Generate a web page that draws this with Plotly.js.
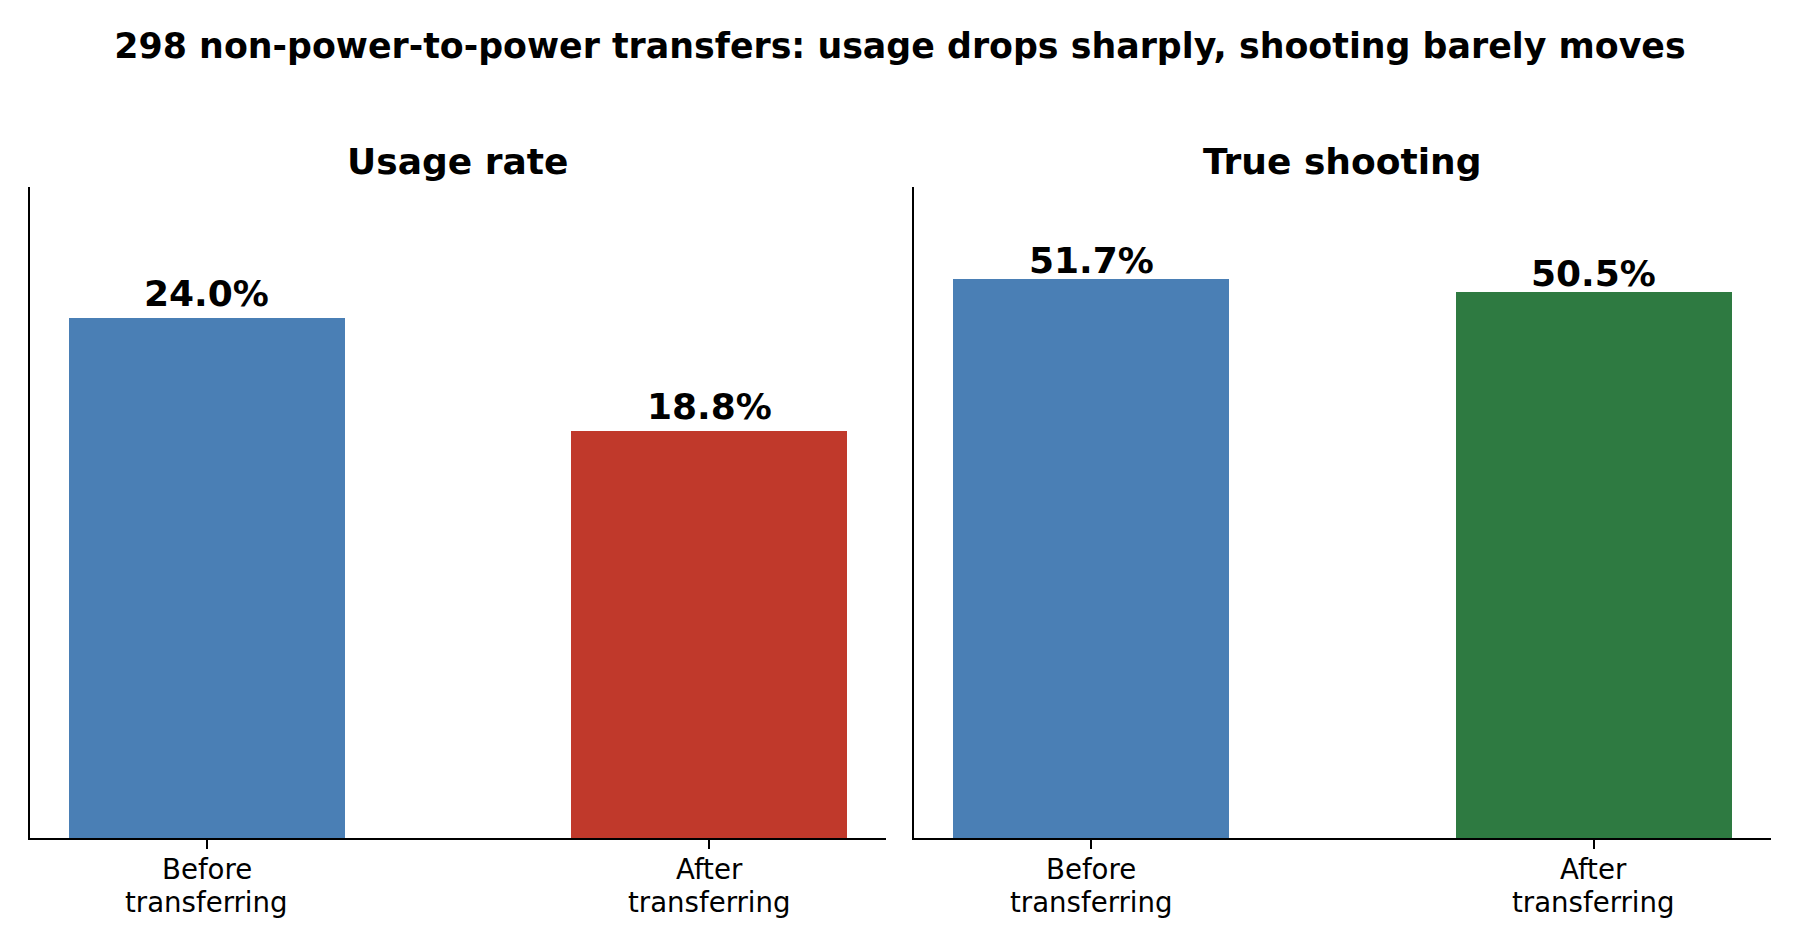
<!DOCTYPE html>
<html>
<head>
<meta charset="utf-8">
<script src="https://cdn.plot.ly/plotly-3.0.1.min.js"></script>
<style>
  html, body { margin: 0; padding: 0; background: #fff; }
  #chart { width: 1800px; height: 948px; }
</style>
</head>
<body>
<div id="chart"></div>
<script>
// values
const categories = ['Before<br>transferring', 'After<br>transferring'];
const usageRate = [24.0, 18.8];
const trueShooting = [51.7, 50.5];
const panelTitles = ['Usage rate', 'True shooting'];
const usageColors = ['#4a7fb5', '#c0392b'];
const shootingColors = ['#4a7fb5', '#2e7a41'];

const boldFont = {family: 'DejaVu Sans', size: 36, color: '#000', weight: 'bold'};
const tickFont = {family: 'DejaVu Sans', size: 27.6, color: '#000'};

const data = [
    {
        x: categories, y: usageRate, type: 'bar', width: 0.55,
        marker: {color: usageColors}, xaxis: 'x', yaxis: 'y',
        hoverinfo: 'skip', showlegend: false
    },
    {
        x: categories, y: trueShooting, type: 'bar', width: 0.55,
        marker: {color: shootingColors}, xaxis: 'x2', yaxis: 'y2',
        hoverinfo: 'skip', showlegend: false
    }
];

function xAxis(domain, anchor) {
    return {
        domain: domain, anchor: anchor, type: 'category',
        range: [-0.3525, 1.3525],
        showline: true, linecolor: '#000', linewidth: 2,
        ticks: 'outside', ticklen: 9, tickwidth: 2, tickcolor: '#000',
        showticklabels: false, showgrid: false, zeroline: false, fixedrange: true
    };
}
function yAxis(domain, anchor, top) {
    return {
        domain: domain, anchor: anchor, range: [0, top],
        showline: true, linecolor: '#000', linewidth: 2,
        ticks: '', showticklabels: false, showgrid: false, zeroline: false,
        fixedrange: true
    };
}

const yDom = [0.116, 0.8027];
const annotations = [];

// value labels sit half a unit above each bar, like the original
function valueLabels(values, xref, yref) {
    values.forEach((v, i) => annotations.push({
        x: categories[i], y: v + 0.5, xref: xref, yref: yref,
        text: v.toFixed(1) + '%', showarrow: false,
        yanchor: 'bottom', yshift: -9, font: boldFont
    }));
}
valueLabels(usageRate, 'x', 'y');
valueLabels(trueShooting, 'x2', 'y2');

// category labels, one annotation per line to get matplotlib's tighter spacing
function categoryLabels(xref) {
    categories.forEach(c => {
        c.split('<br>').forEach((line, j) => annotations.push({
            x: c, y: [0.0823, 0.0481][j], xref: xref, yref: 'paper',
            text: line, showarrow: false, xanchor: 'center', yanchor: 'middle',
            font: tickFont
        }));
    });
}
categoryLabels('x');
categoryLabels('x2');

// panel titles
annotations.push({
    x: 0.2544, y: 0.8296, xref: 'paper', yref: 'paper', text: panelTitles[0],
    showarrow: false, xanchor: 'center', yanchor: 'middle', font: boldFont
});
annotations.push({
    x: 0.7458, y: 0.8296, xref: 'paper', yref: 'paper', text: panelTitles[1],
    showarrow: false, xanchor: 'center', yanchor: 'middle', font: boldFont
});

const layout = {
    width: 1800, height: 948,
    margin: {l: 0, r: 0, t: 0, b: 0, pad: 0},
    paper_bgcolor: '#fff', plot_bgcolor: '#fff',
    title: {
        text: '298 non-power-to-power transfers: usage drops sharply, shooting barely moves',
        x: 0.5, xanchor: 'center', y: 0.952, yanchor: 'middle', yref: 'container',
        font: Object.assign({}, boldFont, {size: 34.8})
    },
    xaxis: xAxis([0.01667, 0.49222], 'y'),
    yaxis: yAxis(yDom, 'x', 30.05),
    xaxis2: xAxis([0.50778, 0.98389], 'y2'),
    yaxis2: yAxis(yDom, 'x2', 60.2),
    annotations: annotations,
    bargap: 0
};

Plotly.newPlot('chart', data, layout, {displayModeBar: false, staticPlot: true});
</script>
</body>
</html>
